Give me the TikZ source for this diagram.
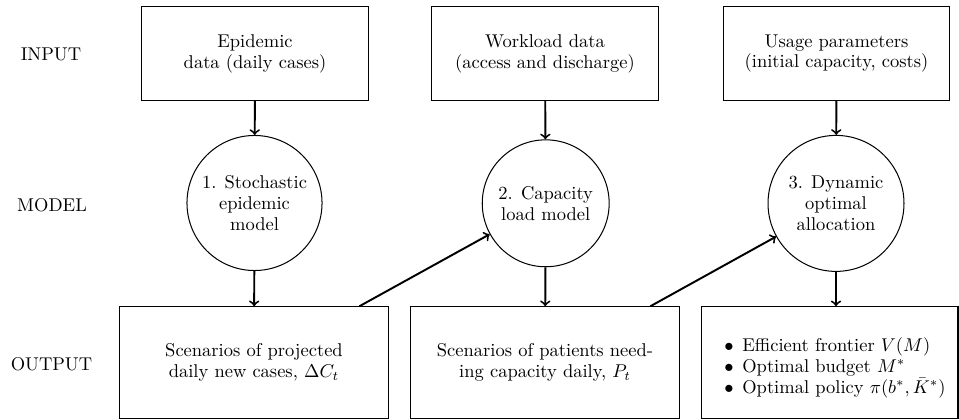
\documentclass[tikz,border=0pt]{standalone}
\usetikzlibrary{calc}
\begin{document}
\begin{tikzpicture}[x=0.5405pt,y=-0.5405pt,
  every node/.style={font=\fontsize{10pt}{11.3pt}\selectfont},
  inbox/.style={draw,line width=0.55pt,minimum width=122.2pt,minimum height=50.3pt,inner sep=0pt,align=center},
  outbox/.style={draw,line width=0.55pt,minimum width=145.9pt,minimum height=60.2pt,inner sep=0pt,align=center},
  modelc/.style={draw,circle,line width=0.55pt,inner sep=0pt,align=center},
  txt/.style={align=center,inner sep=0pt},
  lbl/.style={inner sep=0pt},
  arr/.style={->,line width=1.05pt}]
\useasboundingbox (0,0) rectangle (959,420);
% row labels
\node[lbl] (linput) at (51,54) {INPUT};
\node[lbl] (lmodel) at (52,205) {MODEL};
\node[lbl] (loutput) at (51.5,363.7) {OUTPUT};
% input boxes
\node[inbox] (in1) at (255,53.5) {Epidemic\\data (daily cases)};
\node[inbox] (in2) at (545,53.5) {Workload data\\(access and discharge)};
\node[inbox] (in3) at (836.5,53.5) {Usage parameters\\(initial capacity, costs)};
% model circles
\node[modelc,minimum size=73pt] (c1) at (254.5,203) {1. Stochastic\\epidemic\\model};
\node[modelc,minimum size=68.6pt] (c2) at (545.7,203.3) {2. Capacity\\load model};
\node[modelc,minimum size=73.5pt] (c3) at (836,203.4) {3. Dynamic\\optimal\\allocation};
% output boxes
\node[outbox] (out1) at (254,362.4) {Scenarios of projected\\daily new cases, $\Delta C_t$};
\node[outbox] (out2) at (545,362.4) {Scenarios of patients need-\\ing capacity daily, $P_t$};
\node[outbox,minimum width=138.9pt] (out3) at (829.5,362.4) {};
\node[txt,align=left] (out3t) at (835,367.5) {\makebox[9.7pt][l]{$\bullet$}Efficient frontier $V(M)$\\
\makebox[9.7pt][l]{$\bullet$}Optimal budget $M^*$\\
\makebox[9.7pt][l]{$\bullet$}Optimal policy $\pi(b^*,\bar{K}^*)$};
% arrows
\draw[arr] (in1) -- (c1);
\draw[arr] (in2) -- (c2);
\draw[arr] (in3) -- (c3);
\draw[arr] (c1) -- (out1);
\draw[arr] (c2) -- (out2);
\draw[arr] (c3.south) -- (c3.south |- out3.north);
\draw[arr] ($(out1.north east)+(-30,0)$) -- (c2);
\draw[arr] ($(out2.north east)+(-30,0)$) -- (c3);
\end{tikzpicture}
\end{document}
